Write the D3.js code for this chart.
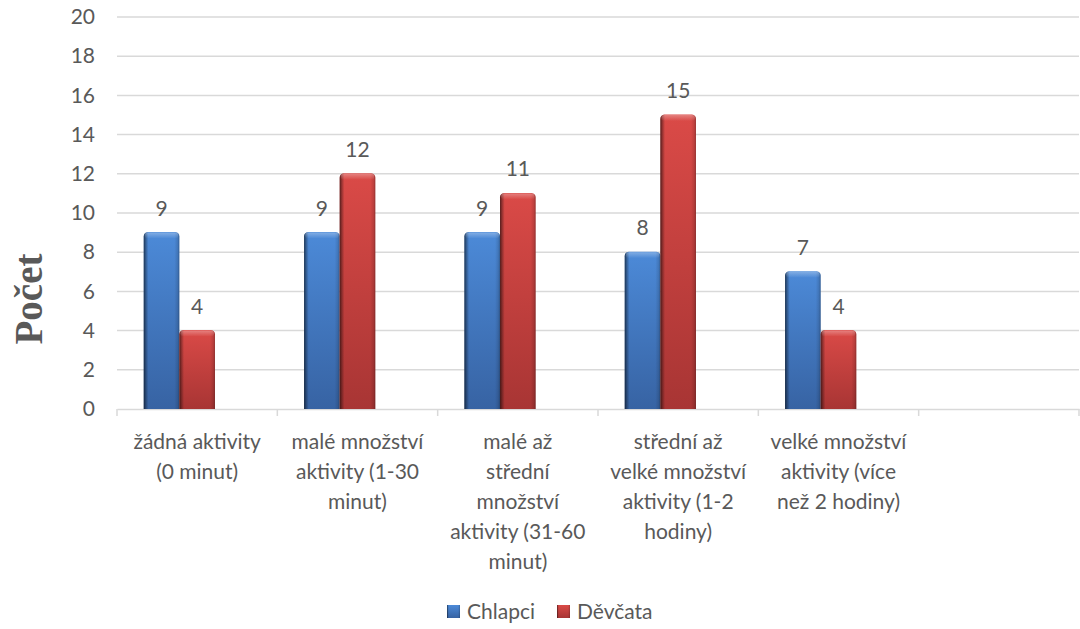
<!DOCTYPE html>
<html>
<head>
<meta charset="utf-8">
<script src="https://cdn.jsdelivr.net/npm/d3@7"></script>
<style>
  html, body { margin: 0; padding: 0; background: #fff; }
  svg { display: block; }
  text { font-family: Lato, "Open Sans", sans-serif; fill: #595959; }
</style>
</head>
<body>
<svg id="chart" width="1080" height="629"></svg>
<script>
// Physical activity per day, counts by group
const categories = [
  "žádná aktivity\n(0 minut)",
  "malé množství\naktivity (1-30\nminut)",
  "malé až\nstřední\nmnožství\naktivity (31-60\nminut)",
  "střední až\nvelké množství\naktivity (1-2\nhodiny)",
  "velké množství\naktivity (více\nnež 2 hodiny)",
  ""
];
const seriesNames = ["Chlapci", "Děvčata"];
const chlapci = [9, 9, 9, 8, 7];
const devcata = [4, 12, 11, 15, 4];
const yTicks = [0, 2, 4, 6, 8, 10, 12, 14, 16, 18, 20];
const yTitle = "Počet";

const seriesValues = [chlapci, devcata];
const palette = [
  { top: "#4c8ad8", bottom: "#3763a3" },
  { top: "#da4a47", bottom: "#a83534" }
];

const svg = d3.select("#chart");
const defs = svg.append("defs");

const plotLeft = 117, plotRight = 1079, plotTop = 17, plotBottom = 409;

const x0 = d3.scaleBand().domain(categories).range([plotLeft, plotRight]).padding(0);
// three slots per group; the third stays empty
const x1 = d3.scaleBand().domain([0, 1, 2]).range([0, x0.bandwidth()])
  .paddingInner(0).paddingOuter(0.75);
const y = d3.scaleLinear().domain([0, 20]).range([plotBottom, plotTop]);

// gradients
palette.forEach((c, i) => {
  const v = defs.append("linearGradient").attr("id", "v" + i)
    .attr("x1", 0).attr("y1", 0).attr("x2", 0).attr("y2", 1);
  v.append("stop").attr("offset", 0).attr("stop-color", c.top);
  v.append("stop").attr("offset", 1).attr("stop-color", c.bottom);
});
const h = defs.append("linearGradient").attr("id", "hshade")
  .attr("x1", 0).attr("y1", 0).attr("x2", 1).attr("y2", 0);
[[0, 0.6], [0.06, 0.3], [0.13, 0.0], [0.86, 0.0], [0.95, 0.12], [1, 0.3]]
  .forEach(([o, a]) => h.append("stop").attr("offset", o)
    .attr("stop-color", "#000").attr("stop-opacity", a));
const hl = defs.append("linearGradient").attr("id", "topHl")
  .attr("x1", 0).attr("y1", 0).attr("x2", 0).attr("y2", 1);
hl.append("stop").attr("offset", 0).attr("stop-color", "#fff").attr("stop-opacity", 0.3);
hl.append("stop").attr("offset", 1).attr("stop-color", "#fff").attr("stop-opacity", 0);

// gridlines
svg.append("g").selectAll("line").data(yTicks.filter(d => d > 0)).join("line")
  .attr("x1", plotLeft).attr("x2", plotRight)
  .attr("y1", d => y(d)).attr("y2", d => y(d))
  .attr("stroke", "#d9d9d9").attr("stroke-width", 1.5);

// y axis labels
const yAxis = d3.axisLeft(y).tickValues(yTicks).tickSize(0).tickPadding(0);
const gy = svg.append("g").attr("transform", `translate(95,0)`).call(yAxis);
gy.select(".domain").remove();
gy.selectAll("text").style("font-size", "21px")
  .style("font-family", "Lato, 'Open Sans', sans-serif").attr("fill", "#595959");

// x axis line and ticks
const xAxis = d3.axisBottom(x0).tickSize(0).tickFormat("");
const gx = svg.append("g").attr("transform", `translate(0,${plotBottom})`).call(xAxis);
gx.select(".domain").attr("stroke", "#d9d9d9").attr("stroke-width", 1.5);
gx.selectAll(".tick").remove();
const boundaries = categories.map(c => x0(c)).concat([x0(categories[categories.length - 1]) + x0.bandwidth()]);
svg.append("g").selectAll("line").data(boundaries).join("line")
  .attr("x1", d => d).attr("x2", d => d)
  .attr("y1", plotBottom).attr("y2", plotBottom + 7)
  .attr("stroke", "#d9d9d9").attr("stroke-width", 1.5);

// category labels
const catG = svg.append("g");
categories.forEach(c => {
  const lines = c ? c.split("\n") : [];
  const t = catG.append("text")
    .attr("x", x0(c) + x0.bandwidth() / 2)
    .attr("y", 449)
    .attr("text-anchor", "middle")
    .style("font-size", "21px");
  lines.forEach((ln, k) => t.append("tspan")
    .attr("x", x0(c) + x0.bandwidth() / 2)
    .attr("dy", k === 0 ? 0 : 30).text(ln));
});

// bars
function barPath(x, yTop, w, yBase) {
  const r = 4;
  return `M${x},${yBase}V${yTop + r}Q${x},${yTop} ${x + r},${yTop - 0.5}` +
    `H${x + w - r}Q${x + w},${yTop} ${x + w},${yTop + r}V${yBase}Z`;
}
const barsG = svg.append("g");
seriesValues.forEach((vals, s) => {
  vals.forEach((v, i) => {
    const c = categories[i];
    const bx = x0(c) + x1(s);
    const w = x1.bandwidth();
    const d = barPath(bx, y(v), w, y(0));
    barsG.append("path").attr("d", d).attr("fill", `url(#v${s})`);
    barsG.append("path").attr("d", d).attr("fill", "url(#hshade)");
    barsG.append("rect").attr("x", bx + 1).attr("y", y(v))
      .attr("width", w - 2).attr("height", 6).attr("rx", 3)
      .attr("fill", "url(#topHl)");
    barsG.append("text")
      .attr("x", bx + w / 2).attr("y", y(v) - 17)
      .attr("text-anchor", "middle")
      .style("font-size", "21px")
      .text(v);
  });
});

// y axis title
svg.append("text")
  .attr("transform", "translate(42,299) rotate(-90)")
  .attr("text-anchor", "middle")
  .style("font-family", "'Liberation Serif', 'Times New Roman', serif")
  .style("font-weight", "bold")
  .style("font-size", "39px")
  .attr("fill", "#595959")
  .text(yTitle);

// legend
const legend = svg.append("g");
const legendX = [447, 557];
seriesNames.forEach((n, s) => {
  const g = legend.append("g").attr("transform", `translate(${legendX[s]},605)`);
  g.append("rect").attr("width", 13).attr("height", 13).attr("fill", `url(#v${s})`);
  g.append("rect").attr("width", 13).attr("height", 13).attr("fill", "url(#hshade)");
  g.append("text").attr("x", 20).attr("y", 14).style("font-size", "21px").text(n);
});
</script>
</body>
</html>
